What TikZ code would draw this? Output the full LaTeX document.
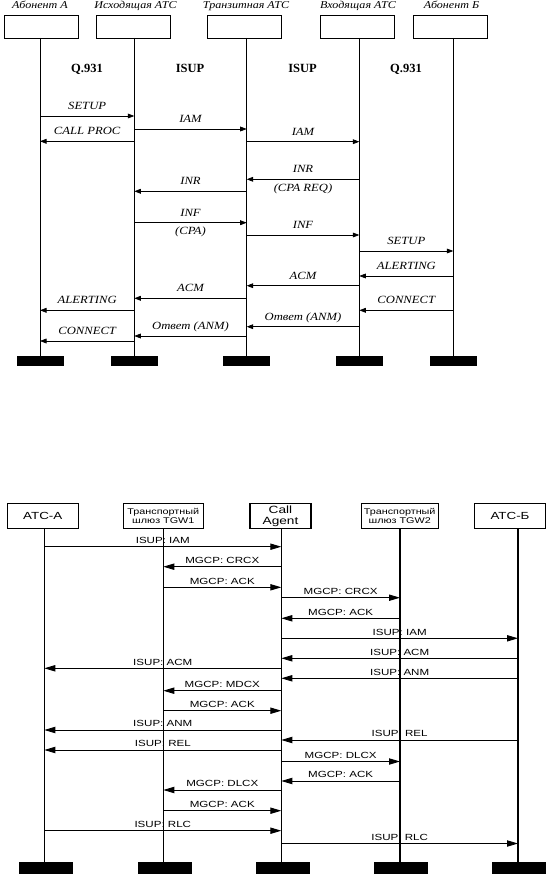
\documentclass[tikz,border=0pt]{standalone}
\usepackage{fontspec}
\usepackage{graphicx}
\setmainfont{Liberation Serif}
\newfontfamily\sansf{Liberation Sans}
\usetikzlibrary{arrows.meta}
\newcommand\TS[1]{\scalebox{1.15}[1]{#1}}
\newcommand\BS[1]{\scalebox{1.3}[1]{#1}}
\begin{document}
\begin{tikzpicture}[x=1pt,y=-1pt,
  thdr/.style={font=\fontsize{10.5}{12}\selectfont\itshape,anchor=base,inner sep=0pt},
  tbox/.style={draw,line width=0.7pt,fill=white,minimum width=74pt,minimum height=23pt,inner sep=0pt,anchor=north},
  tproto/.style={font=\fontsize{12.5}{14}\selectfont\bfseries,anchor=base,inner sep=0pt},
  tlife/.style={line width=0.7pt},
  tbar/.style={fill=black,draw=none,minimum width=47pt,minimum height=9.6pt,inner sep=0pt,anchor=north},
  tmsg/.style={line width=0.7pt,-{Triangle[length=6.5pt,width=4.8pt]}},
  tlbl/.style={font=\fontsize{11}{12}\selectfont\itshape,anchor=base,inner sep=0pt,yshift=6.5pt},
  tsub/.style={font=\fontsize{11}{12}\selectfont\itshape,anchor=base,inner sep=0pt,yshift=-12pt},
  bbox/.style={draw,line width=1.1pt,fill=white,minimum height=25.5pt,inner sep=0pt,align=center,anchor=north,font=\sansf\fontsize{10.3}{11}\selectfont},
  bsmall/.style={font=\sansf\fontsize{8.3}{9.6}\selectfont},
  blife/.style={line width=1.2pt},
  bbar/.style={fill=black,draw=none,minimum width=54pt,minimum height=11.5pt,inner sep=0pt,anchor=north},
  bmsg/.style={line width=0.9pt,-{Triangle[length=11pt,width=6.3pt]}},
  blbl/.style={font=\sansf\fontsize{8.9}{10}\selectfont,anchor=base,inner sep=0pt,yshift=3.3pt}
]
\useasboundingbox[fill=white] (0,0) rectangle (553,877);

%% ================= TOP DIAGRAM =================
\node[tbox] (A) at (41,14.8) {};
\node[tbox] (I) at (133,14.8) {};
\node[tbox] (T) at (244.5,14.8) {};
\node[tbox] (V) at (357,14.8) {};
\node[tbox] (B) at (450.5,14.8) {};
\node[thdr] (hA) at (40,8.8) {\TS{Абонент А}};
\node[thdr] (hI) at (135.5,8.8) {\TS{Исходящая АТС}};
\node[thdr] (hT) at (246,8.8) {\TS{Транзитная АТС}};
\node[thdr] (hV) at (358,8.8) {\TS{Входящая АТС}};
\node[thdr] (hB) at (451.5,8.8) {\TS{Абонент Б}};

\coordinate (la) at (40,37.8);
\coordinate (li) at (134.3,37.8);
\coordinate (lt) at (246.7,37.8);
\coordinate (lv) at (359.3,37.8);
\coordinate (lb) at (453.3,37.8);

\node[tbar] (ba) at (40,355.7) {};
\node[tbar] (bi) at (134.3,355.7) {};
\node[tbar] (bt) at (246.7,355.7) {};
\node[tbar] (bv) at (359.3,355.7) {};
\node[tbar] (bb) at (453.3,355.7) {};

\draw[tlife] (la) -- (ba.north);
\draw[tlife] (li) -- (bi.north);
\draw[tlife] (lt) -- (bt.north);
\draw[tlife] (lv) -- (bv.north);
\draw[tlife] (lb) -- (bb.north);

\node[tproto] (p1) at (87,73) {Q.931};
\node[tproto] (p2) at (190,73) {ISUP};
\node[tproto] (p3) at (302.5,73) {ISUP};
\node[tproto] (p4) at (406,73) {Q.931};

\draw[tmsg] (la |- 0,116) -- (li |- 0,116) node[tlbl,pos=0.5]{\TS{SETUP}};
\draw[tmsg] (li |- 0,129) -- (lt |- 0,129) node[tlbl,pos=0.5]{\TS{IAM}};
\draw[tmsg] (li |- 0,141.3) -- (la |- 0,141.3) node[tlbl,pos=0.5]{\TS{CALL PROC}};
\draw[tmsg] (lt |- 0,141.7) -- (lv |- 0,141.7) node[tlbl,pos=0.5]{\TS{IAM}};
\draw[tmsg] (lv |- 0,179.3) -- (lt |- 0,179.3) node[tlbl,pos=0.5]{\TS{INR}} node[tsub,pos=0.5]{\TS{(CPA REQ)}};
\draw[tmsg] (lt |- 0,191.3) -- (li |- 0,191.3) node[tlbl,pos=0.5]{\TS{INR}};
\draw[tmsg] (li |- 0,222.7) -- (lt |- 0,222.7) node[tlbl,pos=0.5]{\TS{INF}} node[tsub,pos=0.5]{\TS{(CPA)}};
\draw[tmsg] (lt |- 0,235) -- (lv |- 0,235) node[tlbl,pos=0.5]{\TS{INF}};
\draw[tmsg] (lv |- 0,251) -- (lb |- 0,251) node[tlbl,pos=0.5]{\TS{SETUP}};
\draw[tmsg] (lb |- 0,276) -- (lv |- 0,276) node[tlbl,pos=0.5]{\TS{ALERTING}};
\draw[tmsg] (lv |- 0,285.7) -- (lt |- 0,285.7) node[tlbl,pos=0.5]{\TS{ACM}};
\draw[tmsg] (lt |- 0,298.3) -- (li |- 0,298.3) node[tlbl,pos=0.5]{\TS{ACM}};
\draw[tmsg] (li |- 0,310.3) -- (la |- 0,310.3) node[tlbl,pos=0.5]{\TS{ALERTING}};
\draw[tmsg] (lb |- 0,310.3) -- (lv |- 0,310.3) node[tlbl,pos=0.5]{\TS{CONNECT}};
\draw[tmsg] (lv |- 0,326.7) -- (lt |- 0,326.7) node[tlbl,pos=0.5]{\TS{Ответ (ANM)}};
\draw[tmsg] (lt |- 0,336) -- (li |- 0,336) node[tlbl,pos=0.5]{\TS{Ответ (ANM)}};
\draw[tmsg] (li |- 0,341) -- (la |- 0,341) node[tlbl,pos=0.5]{\TS{CONNECT}};

%% ================= BOTTOM DIAGRAM =================
\node[bbox,minimum width=70.5pt] (XA) at (42.8,502.5) {\BS{АТС-А}};
\node[bbox,bsmall,minimum width=80pt] (G1) at (163.3,502.5) {\BS{Транспортный}\\\BS{шлюз TGW1}};
\node[bbox,minimum width=61pt,font=\sansf\fontsize{10.5}{11}\selectfont] (CA) at (280.5,502.5) {\BS{Call}\\\BS{Agent}};
\node[bbox,bsmall,minimum width=76.7pt] (G2) at (399.7,502.5) {\BS{Транспортный}\\\BS{шлюз TGW2}};
\node[bbox,minimum width=71pt] (XB) at (510,502.5) {\BS{АТС-Б}};

\coordinate (ka) at (44.3,528);
\coordinate (k1) at (163.3,528);
\coordinate (kc) at (281.3,528);
\coordinate (k2) at (400,528);
\coordinate (kb) at (518,528);

\node[bbar] (ea) at (46,862) {};
\node[bbar] (e1) at (165,862) {};
\node[bbar] (ec) at (283,862) {};
\node[bbar] (e2) at (401,862) {};
\node[bbar] (eb) at (518.6,862) {};

\draw[blife] (ka) -- (ka |- ea.north);
\draw[blife] (k1) -- (k1 |- e1.north);
\draw[blife] (kc) -- (kc |- ec.north);
\draw[blife] (k2) -- (k2 |- e2.north);
\draw[blife] (kb) -- (kb |- eb.north);

\draw[bmsg] (ka |- 0,546.7) -- (kc |- 0,546.7) node[blbl,pos=0.5]{\BS{ISUP: IAM}};
\draw[bmsg] (kc |- 0,566.7) -- (k1 |- 0,566.7) node[blbl,pos=0.5]{\BS{MGCP: CRCX}};
\draw[bmsg] (k1 |- 0,587.3) -- (kc |- 0,587.3) node[blbl,pos=0.5]{\BS{MGCP: ACK}};
\draw[bmsg] (kc |- 0,597.7) -- (k2 |- 0,597.7) node[blbl,pos=0.5]{\BS{MGCP: CRCX}};
\draw[bmsg] (k2 |- 0,618.3) -- (kc |- 0,618.3) node[blbl,pos=0.5]{\BS{MGCP: ACK}};
\draw[bmsg] (kc |- 0,638.3) -- (kb |- 0,638.3) node[blbl,pos=0.5]{\BS{ISUP: IAM}};
\draw[bmsg] (kb |- 0,658.3) -- (kc |- 0,658.3) node[blbl,pos=0.5]{\BS{ISUP: ACM}};
\draw[bmsg] (kc |- 0,668.3) -- (ka |- 0,668.3) node[blbl,pos=0.5]{\BS{ISUP: ACM}};
\draw[bmsg] (kb |- 0,678.3) -- (kc |- 0,678.3) node[blbl,pos=0.5]{\BS{ISUP: ANM}};
\draw[bmsg] (kc |- 0,690.7) -- (k1 |- 0,690.7) node[blbl,pos=0.5]{\BS{MGCP: MDCX}};
\draw[bmsg] (k1 |- 0,710.7) -- (kc |- 0,710.7) node[blbl,pos=0.5]{\BS{MGCP: ACK}};
\draw[bmsg] (kc |- 0,730) -- (ka |- 0,730) node[blbl,pos=0.5]{\BS{ISUP: ANM}};
\draw[bmsg] (kb |- 0,740) -- (kc |- 0,740) node[blbl,pos=0.5]{\BS{ISUP: REL}};
\draw[bmsg] (kc |- 0,750) -- (ka |- 0,750) node[blbl,pos=0.5]{\BS{ISUP: REL}};
\draw[bmsg] (kc |- 0,761.5) -- (k2 |- 0,761.5) node[blbl,pos=0.5]{\BS{MGCP: DLCX}};
\draw[bmsg] (k2 |- 0,781) -- (kc |- 0,781) node[blbl,pos=0.5]{\BS{MGCP: ACK}};
\draw[bmsg] (kc |- 0,790) -- (k1 |- 0,790) node[blbl,pos=0.5]{\BS{MGCP: DLCX}};
\draw[bmsg] (k1 |- 0,810.7) -- (kc |- 0,810.7) node[blbl,pos=0.5]{\BS{MGCP: ACK}};
\draw[bmsg] (ka |- 0,830.7) -- (kc |- 0,830.7) node[blbl,pos=0.5]{\BS{ISUP: RLC}};
\draw[bmsg] (kc |- 0,843.5) -- (kb |- 0,843.5) node[blbl,pos=0.5]{\BS{ISUP: RLC}};
\end{tikzpicture}
\end{document}
